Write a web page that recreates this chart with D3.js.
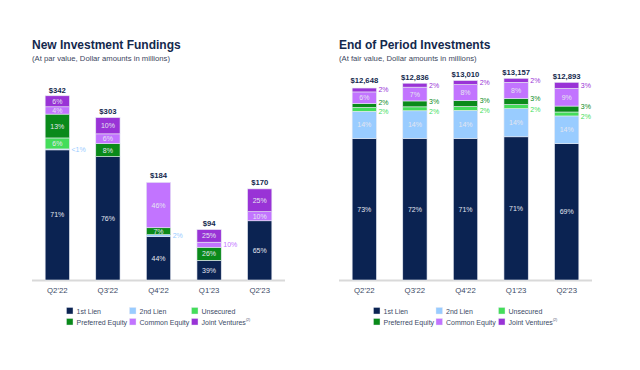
<!DOCTYPE html>
<html>
<head>
<meta charset="utf-8">
<script src="https://cdn.jsdelivr.net/npm/d3@7"></script>
<style>
  body { margin: 0; background: #fff; }
  text { font-family: "Liberation Sans", Arial, sans-serif; }
</style>
</head>
<body>
<script>
// Data
const quarters = ["Q2'22", "Q3'22", "Q4'22", "Q1'23", "Q2'23"];
const seriesNames = ["1st Lien", "2nd Lien", "Unsecured", "Preferred Equity", "Common Equity", "Joint Ventures"];
const colors = ["#0b2352", "#99ccff", "#44dd5a", "#0a8a1a", "#c274ff", "#9933d6"];

// New Investment Fundings (totals in $M, shares in %)
const fundTotals = [342, 303, 184, 94, 170];
const fundFirstLien = [71, 76, 44, 39, 65];
const fundSecondLien = [0.5, 0, 2, 0, 0];
const fundUnsecured = [6, 0, 0, 0, 0];
const fundPreferred = [13, 8, 7, 26, 0];
const fundCommon = [4, 6, 46, 10, 10];
const fundJV = [6, 10, 0, 25, 25];

// End of Period Investments
const eopTotals = [12648, 12836, 13010, 13157, 12893];
const eopFirstLien = [73, 72, 71, 71, 69];
const eopSecondLien = [14, 14, 14, 14, 14];
const eopUnsecured = [2, 2, 2, 2, 2];
const eopPreferred = [2, 3, 3, 3, 3];
const eopCommon = [6, 7, 8, 8, 9];
const eopJV = [2, 2, 2, 2, 3];

// label text overrides for tiny segments
const fundLabelText = { "0-1": "<1%" };

const width = 640, height = 370;
const navy = "#14294d";

const svg = d3.select("body").append("svg")
    .attr("width", width)
    .attr("height", height);

function drawPanel(opts) {
  const g = svg.append("g");
  const x = d3.scaleBand().domain(quarters).range(opts.xRange).paddingInner(0.52).paddingOuter(0.26);
  const y = d3.scaleLinear().domain([0, opts.yMax]).range([280, opts.yTop]);

  // title
  g.append("text").attr("x", opts.titleX).attr("y", 48.5)
    .attr("font-size", 12).attr("font-weight", "bold").attr("fill", navy)
    .text(opts.title);
  g.append("text").attr("x", opts.titleX).attr("y", 60.5)
    .attr("font-size", 7.7).attr("fill", "#3c4660")
    .text(opts.subtitle);

  // axis line
  g.append("line").attr("x1", opts.xRange[0]).attr("x2", opts.xRange[1])
    .attr("y1", 280.5).attr("y2", 280.5).attr("stroke", "#d9d9d9").attr("stroke-width", 2);

  const xAxis = g.append("g").attr("transform", "translate(0,282)")
    .call(d3.axisBottom(x).tickSize(0).tickPadding(5));
  xAxis.select(".domain").remove();
  xAxis.selectAll("text").attr("font-size", 7.8).attr("fill", "#3d4a66")
    .attr("font-family", "Liberation Sans, Arial, sans-serif");

  quarters.forEach((q, i) => {
    const total = opts.totals[i];
    let acc = 0;
    opts.shares.forEach((s, k) => {
      const p = s[i];
      if (!p) return;
      const v0 = acc, v1 = acc + total * p / 100;
      acc = v1;
      const y0 = y(v0), y1 = y(v1);
      g.append("rect")
        .attr("x", x(q)).attr("width", x.bandwidth())
        .attr("y", y1).attr("height", Math.max(0.8, y0 - y1))
        .attr("fill", colors[k])
        .attr("stroke", "#e6e9f2").attr("stroke-width", 0.6);
      const key = i + "-" + k;
      const txt = (opts.labelText && opts.labelText[key]) || (p + "%");
      const mid = (y0 + y1) / 2;
      if (y0 - y1 < 6.5) {
        const dy = opts.nudge ? opts.nudge(k) : 0;
        g.append("text")
          .attr("x", x(q) + x.bandwidth() + 2)
          .attr("y", mid + dy + 2.5)
          .attr("font-size", 7).attr("fill", colors[k])
          .text(txt);
      } else {
        g.append("text")
          .attr("x", x(q) + x.bandwidth() / 2)
          .attr("y", mid + 2.5)
          .attr("text-anchor", "middle")
          .attr("font-size", 7).attr("fill", "#e4e6f0")
          .text(txt);
      }
    });
    g.append("text")
      .attr("x", x(q) + x.bandwidth() / 2)
      .attr("y", y(total) - 3.5)
      .attr("text-anchor", "middle")
      .attr("font-size", 7.7).attr("font-weight", "bold").attr("fill", navy)
      .text(opts.fmt(total));
  });

  // legend
  const lg = g.append("g");
  seriesNames.forEach((name, k) => {
    const col = k % 3, row = Math.floor(k / 3);
    const lx = opts.legendX[col], ly = 308 + row * 11;
    lg.append("rect").attr("x", lx).attr("y", ly - 0.5).attr("width", 6.5).attr("height", 6.5)
      .attr("fill", colors[k]).attr("stroke", "#e6e9f2").attr("stroke-width", 0.4);
    const t = lg.append("text").attr("x", lx + 10).attr("y", ly + 5.5)
      .attr("font-size", 7).attr("fill", "#3c4a66").text(name);
    if (name === "Joint Ventures") {
      t.append("tspan").attr("font-size", 3.5).attr("dy", -4).text("(2)");
    }
  });
}

drawPanel({
  title: "New Investment Fundings",
  subtitle: "(At par value, Dollar amounts in millions)",
  titleX: 32,
  xRange: [32, 285],
  yMax: 342, yTop: 96.7,
  totals: fundTotals,
  shares: [fundFirstLien, fundSecondLien, fundUnsecured, fundPreferred, fundCommon, fundJV],
  labelText: fundLabelText,
  legendX: [66.5, 129.5, 191.5],
  fmt: v => "$" + v
});

drawPanel({
  title: "End of Period Investments",
  subtitle: "(At fair value, Dollar amounts in millions)",
  titleX: 339,
  xRange: [339, 592],
  yMax: 13157, yTop: 78.3,
  totals: eopTotals,
  shares: [eopFirstLien, eopSecondLien, eopUnsecured, eopPreferred, eopCommon, eopJV],
  legendX: [373.5, 436, 498.5],
  nudge: k => (k === 3 ? -2.5 : k === 2 ? 2.5 : 0),
  fmt: v => "$" + d3.format(",")(v)
});
</script>
</body>
</html>
